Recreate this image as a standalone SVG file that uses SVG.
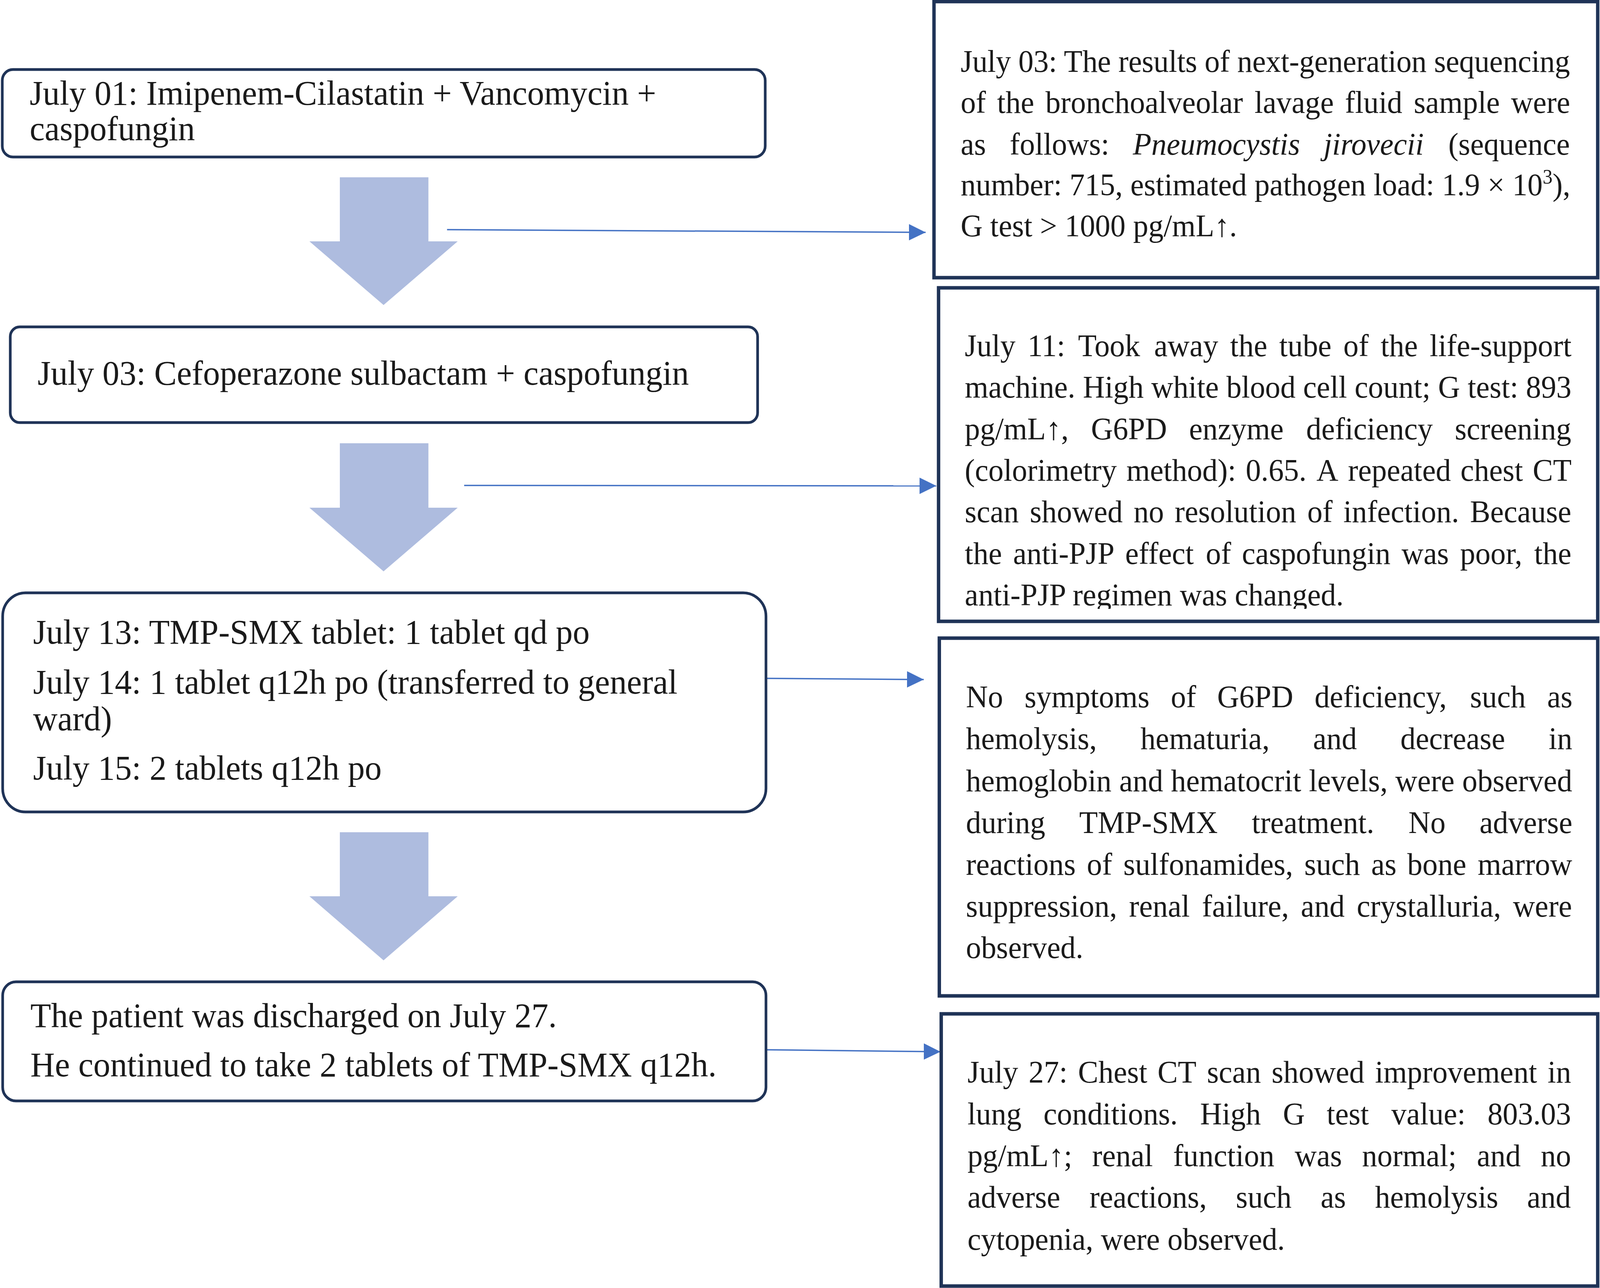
<svg xmlns="http://www.w3.org/2000/svg" width="4209" height="3298" viewBox="0 0 4209 3298">
<style>
.lbox{fill:#fff;stroke:#1f3357;stroke-width:7}
.rbox{fill:#fff;stroke:#1f3357;stroke-width:9}
.big{fill:#aebcdf;stroke:none}
.lt{font-family:"Liberation Serif","Times New Roman",serif;font-size:89px;fill:#1a1a1a}
.rt{font-family:"Liberation Serif","Times New Roman",serif;font-size:80px;fill:#1a1a1a}
.it{font-style:italic}
.con{stroke:#4472c4;stroke-width:3.5;fill:none;marker-end:url(#ah)}
</style>
<defs>
<marker id="ah" markerUnits="userSpaceOnUse" markerWidth="46" markerHeight="44" refX="44" refY="21" orient="auto" viewBox="0 0 46 44">
<path d="M0,0 L44,21 L0,42 Z" fill="#4472c4"/>
</marker>
<clipPath id="clipR2"><rect x="2470" y="740" width="1730" height="819"/></clipPath>
</defs>
<rect width="4209" height="3298" fill="#fff"/>
<g transform="scale(0.97315 1)">

<g id="flow-arrows">
<polygon class="big" points="894,454 1127,454 1127,618 1204,618 1009,781 814,618 894,618"/>
<polygon class="big" points="894,1135 1127,1135 1127,1300 1204,1300 1009,1463 814,1300 894,1300"/>
<polygon class="big" points="894,2131 1127,2131 1127,2295 1204,2295 1009,2459 814,2295 894,2295"/>
</g>

<g id="connectors">
<line class="con" x1="1176" y1="588" x2="2435" y2="595"/>
<line class="con" x1="1221" y1="1243" x2="2463" y2="1244"/>
<line class="con" x1="2016" y1="1737" x2="2430" y2="1740"/>
<line class="con" x1="2016" y1="2688" x2="2474" y2="2693"/>
</g>

<g id="node-july01">
<rect class="lbox" x="6" y="178" width="2007" height="224" rx="28" ry="28"/>
<text class="lt" x="78" y="268">July 01: Imipenem-Cilastatin + Vancomycin +</text>
<text class="lt" x="78" y="359">caspofungin</text>
</g>

<g id="node-july03">
<rect class="lbox" x="27" y="837" width="1966" height="245" rx="25" ry="25"/>
<text class="lt" x="99" y="985">July 03: Cefoperazone sulbactam + caspofungin</text>
</g>

<g id="node-july13">
<rect class="lbox" x="7" y="1518" width="2008" height="561" rx="60" ry="60"/>
<text class="lt" x="87" y="1648">July 13: TMP-SMX tablet: 1 tablet qd po</text>
<text class="lt" x="87" y="1776">July 14: 1 tablet q12h po (transferred to general</text>
<text class="lt" x="87" y="1870">ward)</text>
<text class="lt" x="87" y="1996">July 15: 2 tablets q12h po</text>
</g>

<g id="node-discharge">
<rect class="lbox" x="7" y="2514" width="2008" height="305" rx="35" ry="35"/>
<text class="lt" x="80" y="2630">The patient was discharged on July 27.</text>
<text class="lt" x="80" y="2756">He continued to take 2 tablets of TMP-SMX q12h.</text>
</g>

<g id="node-ngs">
<rect class="rbox" x="2457" y="4" width="1746" height="707"/>
<text class="rt" x="2527" y="184" textLength="1603" lengthAdjust="spacing">July 03: The results of next-generation sequencing</text>
<text class="rt" y="289"><tspan x="2527">of</tspan> <tspan x="2623">the</tspan> <tspan x="2750">bronchoalveolar</tspan> <tspan x="3300">lavage</tspan> <tspan x="3538">fluid</tspan> <tspan x="3719">sample</tspan> <tspan x="3975">were</tspan></text>
<text class="rt" y="396"><tspan x="2527">as</tspan> <tspan x="2656">follows:</tspan> <tspan x="2980" class="it">Pneumocystis</tspan> <tspan x="3482" class="it">jirovecii</tspan> <tspan x="3810">(sequence</tspan></text>
<text class="rt" x="2527" y="500">number: 715, estimated pathogen load: 1.9 × 10<tspan dy="-30" style="font-size:52px">3</tspan><tspan dy="30">),</tspan></text>
<text class="rt" x="2527" y="605">G test &gt; 1000 pg/mL↑.</text>
</g>

<g id="node-july11">
<rect class="rbox" x="2469" y="737" width="1734" height="854"/>
<g clip-path="url(#clipR2)">
<text class="rt" y="912"><tspan x="2538">July</tspan> <tspan x="2703">11:</tspan> <tspan x="2836">Took</tspan> <tspan x="3036">away</tspan> <tspan x="3236">the</tspan> <tspan x="3365">tube</tspan> <tspan x="3534">of</tspan> <tspan x="3632">the</tspan> <tspan x="3761">life-support</tspan></text>
<text class="rt" x="2538" y="1018" textLength="1596" lengthAdjust="spacing">machine. High white blood cell count; G test: 893</text>
<text class="rt" y="1125"><tspan x="2538">pg/mL↑,</tspan> <tspan x="2870">G6PD</tspan> <tspan x="3128">enzyme</tspan> <tspan x="3436">deficiency</tspan> <tspan x="3827">screening</tspan></text>
<text class="rt" y="1231"><tspan x="2538">(colorimetry</tspan> <tspan x="2963">method):</tspan> <tspan x="3277">0.65.</tspan> <tspan x="3463">A</tspan> <tspan x="3546">repeated</tspan> <tspan x="3842">chest</tspan> <tspan x="4032">CT</tspan></text>
<text class="rt" y="1337"><tspan x="2538">scan</tspan> <tspan x="2709">showed</tspan> <tspan x="2982">no</tspan> <tspan x="3090">resolution</tspan> <tspan x="3439">of</tspan> <tspan x="3534">infection.</tspan> <tspan x="3867">Because</tspan></text>
<text class="rt" y="1444"><tspan x="2538">the</tspan> <tspan x="2665">anti-PJP</tspan> <tspan x="2960">effect</tspan> <tspan x="3172">of</tspan> <tspan x="3267">caspofungin</tspan> <tspan x="3687">was</tspan> <tspan x="3841">poor,</tspan> <tspan x="4036">the</tspan></text>
<text class="rt" x="2538" y="1550">anti-PJP regimen was changed.</text>
</g>
</g>

<g id="node-g6pd">
<rect class="rbox" x="2471" y="1634" width="1732" height="916"/>
<text class="rt" y="1811"><tspan x="2541">No</tspan> <tspan x="2695">symptoms</tspan> <tspan x="3080">of</tspan> <tspan x="3202">G6PD</tspan> <tspan x="3458">deficiency,</tspan> <tspan x="3867">such</tspan> <tspan x="4070">as</tspan></text>
<text class="rt" y="1918"><tspan x="2541">hemolysis,</tspan> <tspan x="3000">hematuria,</tspan> <tspan x="3454">and</tspan> <tspan x="3684">decrease</tspan> <tspan x="4074">in</tspan></text>
<text class="rt" x="2541" y="2026" textLength="1595" lengthAdjust="spacing">hemoglobin and hematocrit levels, were observed</text>
<text class="rt" y="2133"><tspan x="2541">during</tspan> <tspan x="2839">TMP-SMX</tspan> <tspan x="3293">treatment.</tspan> <tspan x="3705">No</tspan> <tspan x="3892">adverse</tspan></text>
<text class="rt" y="2240"><tspan x="2541">reactions</tspan> <tspan x="2859">of</tspan> <tspan x="2955">sulfonamides,</tspan> <tspan x="3431">such</tspan> <tspan x="3607">as</tspan> <tspan x="3702">bone</tspan> <tspan x="3887">marrow</tspan></text>
<text class="rt" y="2347"><tspan x="2541">suppression,</tspan> <tspan x="2970">renal</tspan> <tspan x="3162">failure,</tspan> <tspan x="3422">and</tspan> <tspan x="3569">crystalluria,</tspan> <tspan x="3980">were</tspan></text>
<text class="rt" x="2541" y="2453">observed.</text>
</g>

<g id="node-july27">
<rect class="rbox" x="2476" y="2596" width="1727" height="697"/>
<text class="rt" y="2772"><tspan x="2545">July</tspan> <tspan x="2706">27:</tspan> <tspan x="2836">Chest</tspan> <tspan x="3045">CT</tspan> <tspan x="3175">scan</tspan> <tspan x="3345">showed</tspan> <tspan x="3617">improvement</tspan> <tspan x="4071">in</tspan></text>
<text class="rt" y="2879"><tspan x="2545">lung</tspan> <tspan x="2745">conditions.</tspan> <tspan x="3157">High</tspan> <tspan x="3375">G</tspan> <tspan x="3490">test</tspan> <tspan x="3660">value:</tspan> <tspan x="3913">803.03</tspan></text>
<text class="rt" y="2986"><tspan x="2545">pg/mL↑;</tspan> <tspan x="2873">renal</tspan> <tspan x="3086">function</tspan> <tspan x="3406">was</tspan> <tspan x="3583">normal;</tspan> <tspan x="3885">and</tspan> <tspan x="4053">no</tspan></text>
<text class="rt" y="3092"><tspan x="2545">adverse</tspan> <tspan x="2866">reactions,</tspan> <tspan x="3251">such</tspan> <tspan x="3474">as</tspan> <tspan x="3617">hemolysis</tspan> <tspan x="4017">and</tspan></text>
<text class="rt" x="2545" y="3200">cytopenia, were observed.</text>
</g>
</g>
</svg>
